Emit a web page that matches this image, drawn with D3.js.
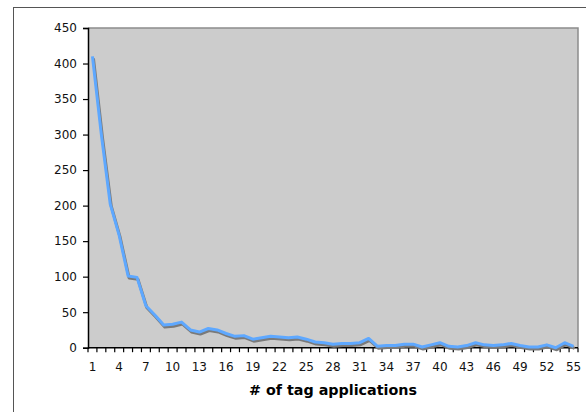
<!DOCTYPE html>
<html>
<head>
<meta charset="utf-8">
<script src="https://cdn.jsdelivr.net/npm/d3@7"></script>
<style>
html,body{margin:0;padding:0;background:#fff;}
svg{display:block;}
</style>
</head>
<body>
<svg id="chart" width="586" height="412"></svg>
<script>
const categories = d3.range(1, 56);
const values = [410, 300, 202, 158, 101, 99, 59, 46, 32, 33,
                36, 25, 22, 27, 25, 20, 16, 17, 12, 14,
                16, 15, 14, 15, 12, 8, 7, 5, 6, 6,
                7, 13, 2, 3, 3, 5, 5, 1, 4, 7,
                2, 1, 3, 7, 4, 3, 4, 6, 3, 1,
                1, 4, 0, 7, 2];
const yTicks = [0, 50, 100, 150, 200, 250, 300, 350, 400, 450];
const xTickLabels = categories.filter((d, i) => i % 3 === 0);
const xTitle = "# of tag applications";

(function () {
const svg = d3.select("#chart");
const pL = 88, pR = 578, pT = 28, pB = 347.7;

// outer chart border
svg.append("rect").attr("x", 13.5).attr("y", 7.5).attr("width", 600).attr("height", 420)
  .attr("fill", "#fff").attr("stroke", "#555").attr("stroke-width", 1);

const x = d3.scaleBand().domain(categories).range([pL, pR]);
const y = d3.scaleLinear().domain([0, 450]).range([pB, pT]);

// plot area
svg.append("rect").attr("x", pL).attr("y", pT).attr("width", pR - pL).attr("height", pB - pT)
  .attr("fill", "#cccccc");
svg.append("path")
  .attr("d", `M${pL},${pT}H${pR}V${pB}`)
  .attr("fill", "none").attr("stroke", "#8c8c8c").attr("stroke-width", 1.5);

const font = "Verdana, 'DejaVu Sans', sans-serif";

// y axis
const yAxis = d3.axisLeft(y).tickValues(yTicks).tickSize(5).tickPadding(6);
const gy = svg.append("g").attr("transform", `translate(${pL},0)`).call(yAxis);
gy.select(".domain").attr("stroke", "#000").attr("stroke-width", 1.5);
gy.selectAll(".tick line").attr("stroke", "#000").attr("stroke-width", 1.2);
gy.selectAll(".tick text").attr("font-family", font).attr("font-size", 12).attr("fill", "#111");

// x axis: ticks at category boundaries
const gx = svg.append("g").attr("transform", `translate(0,${pB})`);
gx.append("line").attr("x1", pL).attr("x2", pR).attr("stroke", "#000").attr("stroke-width", 1.5);
const bounds = d3.range(0, categories.length + 1).map(i => pL + i * x.step());
gx.selectAll("line.tk").data(bounds).join("line").attr("class", "tk")
  .attr("x1", d => d).attr("x2", d => d).attr("y1", 0).attr("y2", 4.5)
  .attr("stroke", "#000").attr("stroke-width", 1.2);
gx.selectAll("text.lbl").data(xTickLabels).join("text").attr("class", "lbl")
  .attr("x", d => x(d) + x.bandwidth() / 2).attr("y", 23.5)
  .attr("text-anchor", "middle").attr("font-family", font).attr("font-size", 12).attr("fill", "#111")
  .text(d => d);

svg.append("text").attr("x", (pL + pR) / 2).attr("y", 395)
  .attr("text-anchor", "middle").attr("font-family", font).attr("font-size", 14.3)
  .attr("font-weight", "bold").attr("fill", "#000").text(xTitle);

// line with shadow
const line = d3.line().x((d, i) => x(categories[i]) + x.bandwidth() / 2).y(d => y(d));
svg.append("path").datum(values).attr("d", line)
  .attr("transform", "translate(1,2)")
  .attr("fill", "none").attr("stroke", "#7a7a7a").attr("stroke-width", 3).attr("stroke-linejoin", "round");
svg.append("path").datum(values).attr("d", line)
  .attr("fill", "none").attr("stroke", "#5ea8ff").attr("stroke-width", 3).attr("stroke-linejoin", "round");
})();
</script>
</body>
</html>
